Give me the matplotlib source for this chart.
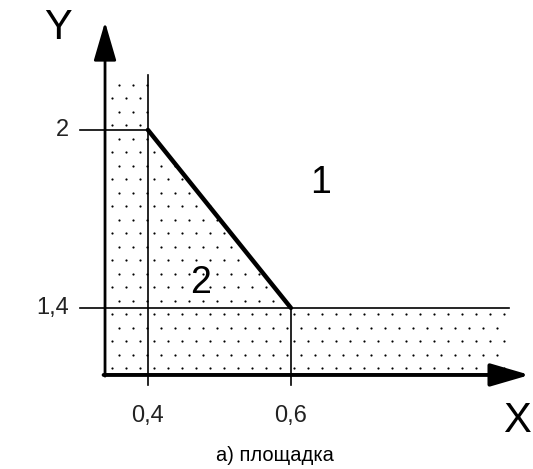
import numpy as np
import matplotlib.pyplot as plt
from matplotlib.path import Path

# данные схемы
x_ticks = [0.4, 0.6]
x_tick_labels = ['0,4', '0,6']
y_ticks = [2.0, 1.4]
y_tick_labels = ['2', '1,4']
border_x = [0.4, 0.6]          # граница областей 1 и 2
border_y = [2.0, 1.4]
x0, y0 = 0.34, 1.174           # начало осей
x_end, y_top = 0.905, 2.185    # конец штриховки
zone_labels = ['1', '2']
zone_x = [0.642, 0.474]
zone_y = [1.821, 1.484]

fig = plt.figure(figsize=(5.33, 4.69), dpi=100)
ax = fig.add_axes([0, 0, 1, 1])
ax.set_xlim(0.1931, 0.9386)
ax.set_ylim(0.857, 2.438)
ax.axis('off')

# точечная заливка области
poly = Path([(x0, y_top), (x_ticks[0], y_top), (border_x[0], border_y[0]),
             (border_x[1], border_y[1]), (x_end, y_ticks[1]),
             (x_end, y0), (x0, y0)])
dx, dy = 14 / 715, 13.5 / 296.7
pts = []
for i, yy in enumerate(np.arange(y0 + dy / 2, y_top, dy)):
    shift = dx / 2 if i % 2 else 0
    for xx in np.arange(x0 + dx / 2 + shift, x_end, dx):
        pts.append((xx, yy))
pts = np.array(pts)
pts = pts[poly.contains_points(pts, radius=-0.004)]
ax.scatter(pts[:, 0], pts[:, 1], s=2.5, color='black', linewidths=0)

# тонкие линии
ax.plot([x_ticks[0], x_ticks[0]], [y0 - 0.035, y_top], color='black', lw=1.2)
ax.plot([x_ticks[1], x_ticks[1]], [y0 - 0.035, y_ticks[1]], color='black', lw=1.2)
ax.plot([0.305, x_ticks[0]], [y_ticks[0], y_ticks[0]], color='black', lw=1.2)
ax.plot([0.305, x_end], [y_ticks[1], y_ticks[1]], color='black', lw=1.2)

# граница
ax.plot(border_x, border_y, color='black', lw=3.2, solid_capstyle='round')

# оси со стрелками
ax.annotate('', xy=(x0, 2.364), xytext=(x0, y0 - 0.004),
            arrowprops=dict(arrowstyle='-|>,head_length=1.2,head_width=0.35',
                            mutation_scale=20, color='black', lw=2, shrinkA=0, shrinkB=0))
ax.annotate('', xy=(0.934, y0), xytext=(x0 - 0.002, y0),
            arrowprops=dict(arrowstyle='-|>,head_length=1.2,head_width=0.35',
                            mutation_scale=20, color='black', lw=2.8, shrinkA=0, shrinkB=0))

# подписи
ax.text(0.2742, 2.344, 'Y', fontsize=30, ha='center', va='center',
        family='Liberation Sans')
ax.text(0.9162, 1.019, 'X', fontsize=30, ha='center', va='center',
        family='Liberation Sans')
for xv, lab in zip(x_ticks, x_tick_labels):
    ax.text(xv, y0 - 0.137, lab, fontsize=17, ha='center', va='center',
            family='Liberation Sans', color='#222222')
for yv, lab in zip(y_ticks, y_tick_labels):
    ax.text(0.29, yv, lab, fontsize=17, ha='right', va='center',
            family='Liberation Sans', color='#222222')
for zx, zy, lab in zip(zone_x, zone_y, zone_labels):
    ax.text(zx, zy, lab, fontsize=27, ha='center', va='center',
            family='Liberation Sans')
ax.text(0.578, 0.904, 'а) площадка', fontsize=14.5, ha='center', va='center',
        family='Liberation Sans')

fig.savefig('out.png', dpi=100)
